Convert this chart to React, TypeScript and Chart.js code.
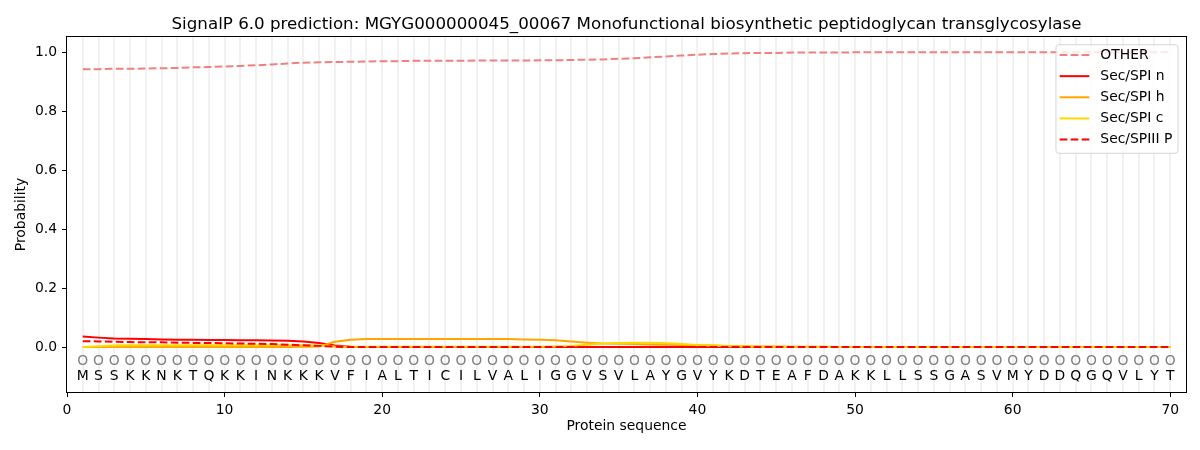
import { useEffect, useRef } from 'react'
import { Chart, registerables } from 'chart.js'

Chart.register(...registerables)

const FONT = '"DejaVu Sans", "Liberation Sans", sans-serif'

const titleText =
  'SignalP 6.0 prediction: MGYG000000045_00067 Monofunctional biosynthetic peptidoglycan transglycosylase'

// protein sequence, one residue per position 1..70
const residues = [
  'M', 'S', 'S', 'K', 'K', 'N', 'K', 'T', 'Q', 'K',
  'K', 'I', 'N', 'K', 'K', 'K', 'V', 'F', 'I', 'A',
  'L', 'T', 'I', 'C', 'I', 'L', 'V', 'A', 'L', 'I',
  'G', 'G', 'V', 'S', 'V', 'L', 'A', 'Y', 'G', 'V',
  'Y', 'K', 'D', 'T', 'E', 'A', 'F', 'D', 'A', 'K',
  'K', 'L', 'L', 'S', 'S', 'G', 'A', 'S', 'V', 'M',
  'Y', 'D', 'D', 'Q', 'G', 'Q', 'V', 'L', 'Y', 'T',
]
const positions = residues.map((_, i) => i + 1)

const xTickValues = [0, 10, 20, 30, 40, 50, 60, 70]
const yTickValues = [0, 0.2, 0.4, 0.6, 0.8, 1.0]

// level of the "O" markers and of the residue letters
const markerLevel = -0.05
const letterLevel = -0.1

const otherProb = [
  0.943, 0.943, 0.944, 0.944, 0.945, 0.946, 0.947, 0.949, 0.950, 0.952,
  0.954, 0.956, 0.959, 0.962, 0.965, 0.966, 0.967, 0.968, 0.969, 0.970,
  0.970, 0.971, 0.971, 0.971, 0.971, 0.972, 0.972, 0.972, 0.972, 0.973,
  0.973, 0.974, 0.975, 0.976, 0.978, 0.980, 0.983, 0.986, 0.989, 0.992,
  0.994, 0.996, 0.997, 0.998, 0.998, 0.999, 0.999, 0.999, 0.999, 1.0,
  1.0, 1.0, 1.0, 1.0, 1.0, 1.0, 1.0, 1.0, 1.0, 1.0,
  1.0, 1.0, 1.0, 1.0, 1.0, 1.0, 1.0, 1.0, 1.0, 1.0,
]

const spiN = [
  0.036, 0.032, 0.029, 0.028, 0.027, 0.026, 0.025, 0.025, 0.024, 0.024,
  0.023, 0.023, 0.022, 0.021, 0.019, 0.014, 0.005, 0.001, 0, 0,
  0, 0, 0, 0, 0, 0, 0, 0, 0, 0,
  0, 0, 0, 0, 0, 0, 0, 0, 0, 0,
  0, 0, 0, 0, 0, 0, 0, 0, 0, 0,
  0, 0, 0, 0, 0, 0, 0, 0, 0, 0,
  0, 0, 0, 0, 0, 0, 0, 0, 0, 0,
]

const spiH = [
  0, 0, 0, 0, 0, 0, 0, 0, 0, 0,
  0, 0, 0, 0, 0.001, 0.002, 0.018, 0.025, 0.027, 0.027,
  0.027, 0.027, 0.027, 0.027, 0.027, 0.027, 0.027, 0.027, 0.026, 0.025,
  0.023, 0.019, 0.015, 0.012, 0.011, 0.010, 0.009, 0.008, 0.007, 0.006,
  0.005, 0.004, 0.003, 0.002, 0.002, 0.001, 0.001, 0.001, 0, 0,
  0, 0, 0, 0, 0, 0, 0, 0, 0, 0,
  0, 0, 0, 0, 0, 0, 0, 0, 0, 0,
]

const spiC = [
  0.000, 0.003, 0.005, 0.006, 0.006, 0.006, 0.006, 0.006, 0.006, 0.006,
  0.006, 0.006, 0.006, 0.006, 0.006, 0.005, 0.002, 0.001, 0.001, 0.001,
  0.001, 0.001, 0.001, 0.001, 0.001, 0.001, 0.001, 0.001, 0.001, 0.001,
  0.002, 0.004, 0.008, 0.012, 0.014, 0.015, 0.015, 0.013, 0.010, 0.007,
  0.005, 0.003, 0.002, 0.001, 0.001, 0, 0, 0, 0, 0,
  0, 0, 0, 0, 0, 0, 0, 0, 0, 0,
  0, 0, 0, 0, 0, 0, 0, 0, 0, 0,
]

const spiiiP = [
  0.020, 0.019, 0.018, 0.017, 0.016, 0.016, 0.015, 0.014, 0.014, 0.013,
  0.012, 0.011, 0.010, 0.008, 0.006, 0.004, 0.001, 0, 0, 0,
  0, 0, 0, 0, 0, 0, 0, 0, 0, 0,
  0, 0, 0, 0, 0, 0, 0, 0, 0, 0,
  0, 0, 0, 0, 0, 0, 0, 0, 0, 0,
  0, 0, 0, 0, 0, 0, 0, 0, 0, 0,
  0, 0, 0, 0, 0, 0, 0, 0, 0, 0,
]

const DASH = [7.7, 3.3]

const toPoints = (vals: number[]) => vals.map((v, i) => ({ x: positions[i], y: v }))

// title over the plot area
const titlePlugin = {
  id: 'plotTitle',
  afterDraw(chart: any) {
    const { ctx, chartArea: a } = chart
    ctx.save()
    ctx.font = `16.7px ${FONT}`
    ctx.fillStyle = '#000'
    ctx.textAlign = 'center'
    ctx.textBaseline = 'alphabetic'
    ctx.fillText(titleText, (a.left + a.right) / 2, 29.3)
    ctx.restore()
  },
}

// O markers + residue letters under the curves
const sequencePlugin = {
  id: 'sequence',
  afterDatasetsDraw(chart: any) {
    const { ctx, scales } = chart
    const x = scales.x
    const y = scales.y
    ctx.save()
    ctx.font = `13.9px ${FONT}`
    ctx.textAlign = 'center'
    ctx.textBaseline = 'middle'
    residues.forEach((r, i) => {
      const px = x.getPixelForValue(positions[i])
      ctx.fillStyle = '#808080'
      ctx.fillText('O', px, y.getPixelForValue(markerLevel))
      ctx.fillStyle = '#000'
      ctx.fillText(r, px, y.getPixelForValue(letterLevel))
    })
    ctx.restore()
  },
}

// full black box round the axes
const framePlugin = {
  id: 'frame',
  afterDatasetsDraw(chart: any) {
    const { ctx, chartArea: a } = chart
    ctx.save()
    ctx.strokeStyle = '#000'
    ctx.lineWidth = 1
    ctx.strokeRect(a.left - 0.5, a.top - 0.5, a.right - a.left + 1, a.bottom - a.top + 1)
    ctx.restore()
  },
}

// matplotlib-like legend in the upper right corner
const boxLegendPlugin = {
  id: 'boxLegend',
  afterDraw(chart: any) {
    const { ctx, chartArea: a } = chart
    const items = chart.data.datasets
    ctx.save()
    ctx.font = `13.9px ${FONT}`
    const textW = Math.max(...items.map((d: any) => ctx.measureText(d.label).width))
    const w = 44.4 + textW + 5.7
    const h = 108.6
    const left = a.right - 8 - w
    const top = a.top + 7.7
    ctx.beginPath()
    ctx.roundRect(left, top, w, h, 3)
    ctx.fillStyle = 'rgba(255,255,255,0.8)'
    ctx.fill()
    ctx.strokeStyle = 'rgba(204,204,204,0.8)'
    ctx.lineWidth = 1
    ctx.stroke()
    items.forEach((d: any, i: number) => {
      const yy = top + 10.3 + i * 21.15
      ctx.beginPath()
      ctx.setLineDash(d.borderDash || [])
      ctx.strokeStyle = d.borderColor
      ctx.lineWidth = 2
      ctx.moveTo(left + 3.7, yy)
      ctx.lineTo(left + 33.4, yy)
      ctx.stroke()
      ctx.setLineDash([])
      ctx.fillStyle = '#000'
      ctx.textAlign = 'left'
      ctx.textBaseline = 'middle'
      ctx.fillText(d.label, left + 44.4, yy)
    })
    ctx.restore()
  },
}

export default function App() {
  const canvasRef = useRef<HTMLCanvasElement>(null)
  const chartRef = useRef<Chart | null>(null)

  useEffect(() => {
    document.body.style.margin = '0'
    if (!canvasRef.current) return
    if (chartRef.current) chartRef.current.destroy()

    const tickFont = { family: FONT, size: 13.9 }

    chartRef.current = new Chart(canvasRef.current, {
      type: 'line',
      data: {
        // higher order = drawn earlier, so the last series ends up on top
        datasets: [
          {
            label: 'OTHER',
            data: toPoints(otherProb),
            borderColor: '#f08080',
            borderDash: DASH,
            borderWidth: 2,
            pointRadius: 0,
            order: 4,
          },
          {
            label: 'Sec/SPI n',
            data: toPoints(spiN),
            borderColor: '#ff0000',
            borderWidth: 2,
            pointRadius: 0,
            order: 3,
          },
          {
            label: 'Sec/SPI h',
            data: toPoints(spiH),
            borderColor: '#ffa500',
            borderWidth: 2,
            pointRadius: 0,
            order: 2,
          },
          {
            label: 'Sec/SPI c',
            data: toPoints(spiC),
            borderColor: '#ffd700',
            borderWidth: 2,
            pointRadius: 0,
            order: 1,
          },
          {
            label: 'Sec/SPIII P',
            data: toPoints(spiiiP),
            borderColor: '#ff0000',
            borderDash: DASH,
            borderWidth: 2,
            pointRadius: 0,
            order: 0,
          },
        ] as any,
      },
      options: {
        animation: false,
        responsive: true,
        maintainAspectRatio: false,
        layout: { padding: { top: 37, right: 14, left: 0, bottom: 0 } },
        plugins: {
          legend: { display: false },
          title: { display: false },
          tooltip: { enabled: false },
        },
        scales: {
          x: {
            type: 'linear',
            min: 0,
            max: 71,
            afterBuildTicks: (s: any) => {
              s.ticks = xTickValues.map((v) => ({ value: v }))
            },
            afterFit: (s: any) => {
              s.height = 58
            },
            ticks: {
              font: tickFont,
              color: '#000',
              padding: 5,
              maxRotation: 0,
              autoSkip: false,
              callback: (v: any) => String(v),
            },
            grid: { drawOnChartArea: false, tickLength: 5, color: '#000', tickColor: '#000' },
            border: { display: false },
            title: {
              display: true,
              text: 'Protein sequence',
              font: tickFont,
              color: '#000',
              padding: { top: 0, bottom: 15 },
            },
          },
          xGrid: {
            type: 'linear',
            position: 'top',
            min: 0,
            max: 71,
            afterBuildTicks: (s: any) => {
              s.ticks = positions.map((v) => ({ value: v }))
            },
            afterFit: (s: any) => {
              s.height = 0
            },
            ticks: { display: false },
            grid: { color: 'rgba(0,0,0,0.055)', lineWidth: 2, drawTicks: false },
            border: { display: false },
          },
          y: {
            type: 'linear',
            min: -0.1525,
            max: 1.052,
            afterBuildTicks: (s: any) => {
              s.ticks = yTickValues.map((v) => ({ value: v }))
            },
            afterFit: (s: any) => {
              s.width = 67
            },
            ticks: {
              font: tickFont,
              color: '#000',
              padding: 5,
              callback: (v: any) => Number(v).toFixed(1),
            },
            grid: { drawOnChartArea: false, tickLength: 5, color: '#000', tickColor: '#000' },
            border: { display: false },
            title: {
              display: true,
              text: 'Probability',
              font: tickFont,
              color: '#000',
              padding: { top: 13, bottom: 0 },
            },
          },
        },
      } as any,
      plugins: [sequencePlugin, framePlugin, titlePlugin, boxLegendPlugin],
    })

    return () => {
      if (chartRef.current) {
        chartRef.current.destroy()
        chartRef.current = null
      }
    }
  }, [])

  return (
    <div style={{ position: 'relative', width: 1200, height: 450 }}>
      <canvas ref={canvasRef} />
    </div>
  )
}
